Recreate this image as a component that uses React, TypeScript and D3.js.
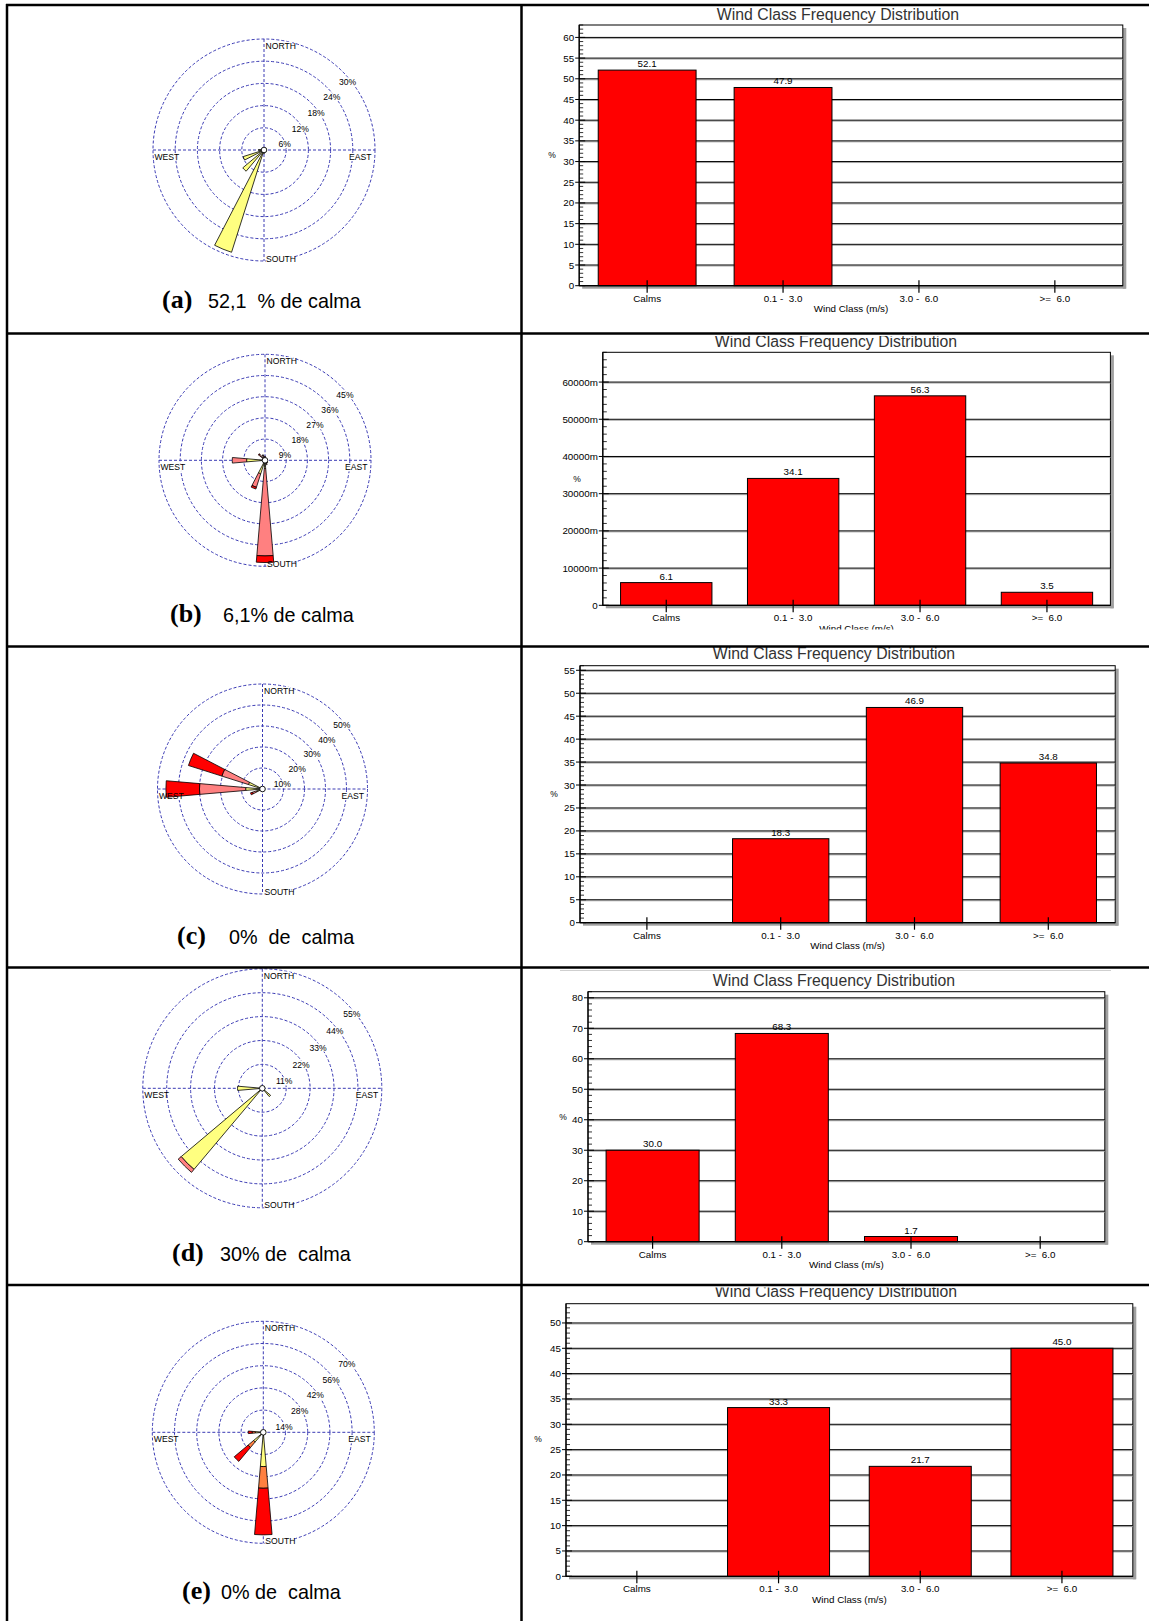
import React from "react";
import * as d3 from "d3";

// ---------------- data ----------------
const windClasses = ["Calms", "0.1 -  3.0", "3.0 -  6.0", ">=  6.0"];
const freqA = [52.1, 47.9, 0, 0];
const freqB = [6.1, 34.1, 56.3, 3.5];
const freqC = [0, 18.3, 46.9, 34.8];
const freqD = [30.0, 68.3, 1.7, 0];
const freqE = [0, 33.3, 21.7, 45.0];

const panelLetters = ["(a)", "(b)", "(c)", "(d)", "(e)"];
const panelCaptions = ["52,1  % de calma", "6,1% de calma", "0%  de  calma", "30% de  calma", "0% de  calma"];

const compassLabels = ["NORTH", "SOUTH", "WEST", "EAST"];
const chartTitle = "Wind Class Frequency Distribution";
const xAxisTitle = "Wind Class (m/s)";
const yAxisTitle = "%";

const ringsA = [6, 12, 18, 24, 30];
const ringsB = [9, 18, 27, 36, 45];
const ringsC = [10, 20, 30, 40, 50];
const ringsD = [11, 22, 33, 44, 55];
const ringsE = [14, 28, 42, 56, 70];

// petals: direction (deg) and % per speed class (0.1-3, 3-6, >=6)
const dirsA = [202.5, 225, 247.5, 270, 180];
const lowA = [29.0, 7.5, 5.9, 1.5, 1.0];

const dirsB = [180, 270, 202.5, 315, 337.5, 0, 157.5, 135];
const lowB = [3.5, 7.8, 6.0, 1.2, 1.0, 0.8, 1.5, 1.0];
const midB = [37.1, 6.1, 6.0, 2.2, 1.5, 1.0, 0.5, 0.5];
const highB = [2.8, 0, 0.8, 0.3, 0, 0, 0, 0];

const dirsC = [270, 292.5, 247.5];
const lowC = [8, 7, 3];
const midC = [22, 13.3, 2];
const highC = [16, 16.7, 1];

const dirsD = [225, 270, 135];
const lowD = [48.8, 11.4, 5.0];
const midD = [1.8, 0, 0];

const dirsE = [180, 225, 270];
const lowE = [21.6, 8.0, 5.0];
const midE = [13.7, 4.6, 2.0];
const highE = [29.4, 11.4, 2.5];

// ---------------- styles ----------------
const YEL = "#ffff80";
const SAL = "#ff8080";
const ORA = "#ff8040";
const RED = "#ff0000";
const GRID_BLUE = "#3a3ab4";
const SANS = "'Liberation Sans', Arial, sans-serif";
const SERIF = "'Liberation Serif', 'Times New Roman', serif";

const roses = [
  { cx: 264, cy: 150, R: 111, rings: ringsA, dirs: dirsA, segs: [lowA], colors: [YEL] },
  { cx: 265, cy: 460.3, R: 106, rings: ringsB, dirs: dirsB, segs: [lowB, midB, highB], colors: [YEL, SAL, RED] },
  { cx: 262.5, cy: 789, R: 105, rings: ringsC, dirs: dirsC, segs: [lowC, midC, highC], colors: [YEL, SAL, RED] },
  { cx: 262.3, cy: 1088.3, R: 119.5, rings: ringsD, dirs: dirsD, segs: [lowD, midD], colors: [YEL, SAL] },
  { cx: 263.3, cy: 1432.3, R: 111, rings: ringsE, dirs: dirsE, segs: [lowE, midE, highE], colors: [YEL, ORA, RED] },
];

const charts = [
  { values: freqA, l: 579.2, r: 1122.8, t: 25, b: 285.7, ymax: 63, major: 5, minor: 1, milli: false, titleX: 838, titleY: 19.5, pct: [552, 158], clip: null as null | [number, number], topLine: null as null | number },
  { values: freqB, l: 602.8, r: 1110.4, t: 352.3, b: 605.3, ymax: 68, major: 10, minor: 2, milli: true, titleX: 836, titleY: 347, pct: [577, 482], clip: [336, 629.5], topLine: null },
  { values: freqC, l: 580, r: 1115.2, t: 665.7, b: 922.7, ymax: 56, major: 5, minor: 1, milli: false, titleX: 834, titleY: 659, pct: [554, 797], clip: null, topLine: null },
  { values: freqD, l: 588, r: 1104.8, t: 991.7, b: 1241.7, ymax: 82, major: 10, minor: 2, milli: false, titleX: 834, titleY: 985.7, pct: [563, 1120], clip: null, topLine: 970.5 },
  { values: freqE, l: 566, r: 1132.8, t: 1303.7, b: 1576.3, ymax: 53.8, major: 5, minor: 1, milli: false, titleX: 836, titleY: 1297, pct: [538, 1442], clip: [1287.5, 1621], topLine: null },
];

const captions = [
  { lx: 162, tx: 208, y: 308 },
  { lx: 170, tx: 223, y: 622 },
  { lx: 177, tx: 229, y: 944 },
  { lx: 172, tx: 220, y: 1260.5 },
  { lx: 182, tx: 221, y: 1598.5 },
];

const rowLines = [5, 333.5, 646.5, 967.5, 1285];

// ---------------- components ----------------
function Rose({ cx, cy, R, rings, dirs, segs, colors }: any) {
  const max = rings[rings.length - 1];
  const r = d3.scaleLinear().domain([0, max]).range([0, R]);
  const half = (4.9 * Math.PI) / 180;
  const arc = d3.arc<any>();
  const petals: any[] = [];
  dirs.forEach((dir: number, i: number) => {
    let cum = 0;
    const a = (dir * Math.PI) / 180;
    segs.forEach((s: number[], k: number) => {
      const v = s[i];
      if (v > 0) {
        petals.push({
          d: arc({ innerRadius: r(cum), outerRadius: r(cum + v), startAngle: a - half, endAngle: a + half }),
          fill: colors[k],
          key: `${i}-${k}`,
        });
      }
      cum += v;
    });
  });
  const fs = 8.6;
  const top = cy - R;
  const labelPos = [
    { t: compassLabels[0], x: cx + 1.5, y: top + 9.8, anchor: "start" },
    { t: compassLabels[1], x: cx + 2, y: cy + R + 0.5, anchor: "start" },
    { t: compassLabels[2], x: cx - R + 1.5, y: cy + 10, anchor: "start" },
    { t: compassLabels[3], x: cx + R - 3.5, y: cy + 10, anchor: "end" },
  ];
  const k = Math.SQRT1_2;
  const ringLabels = rings.map((v: number) => ({
    t: `${v}%`,
    x: cx + r(v) * k + 5,
    y: cy - r(v) * k + 10 + 3,
  }));
  const w = (s: string) => s.length * fs * 0.62;
  return (
    <g>
      {rings.map((v: number) => (
        <circle key={v} cx={cx} cy={cy} r={r(v)} fill="none" stroke={GRID_BLUE} strokeWidth={1} strokeDasharray="3 2" />
      ))}
      <line x1={cx - R} x2={cx + R} y1={cy} y2={cy} stroke={GRID_BLUE} strokeDasharray="3 2" />
      <line x1={cx} x2={cx} y1={cy - R} y2={cy + R} stroke={GRID_BLUE} strokeDasharray="3 2" />
      {labelPos.map((p) => (
        <rect key={"bg" + p.t} x={p.anchor === "end" ? p.x - w(p.t) : p.x} y={p.y - 7} width={w(p.t)} height={8} fill="#fff" />
      ))}
      {ringLabels.map((p: any) => (
        <rect key={"bg" + p.t} x={p.x - w(p.t) / 2} y={p.y - 7} width={w(p.t)} height={8} fill="#fff" />
      ))}
      {petals.map((p) => (
        <path key={p.key} d={p.d} transform={`translate(${cx},${cy})`} fill={p.fill} stroke="#000" strokeWidth={0.8} strokeLinejoin="round" />
      ))}
      {labelPos.map((p) => (
        <text key={p.t} x={p.x} y={p.y} fontSize={fs} fontFamily={SANS} textAnchor={p.anchor} fill="#000">
          {p.t}
        </text>
      ))}
      {ringLabels.map((p: any) => (
        <text key={p.t} x={p.x} y={p.y} fontSize={fs} fontFamily={SANS} textAnchor="middle" fill="#000">
          {p.t}
        </text>
      ))}
      <circle cx={cx} cy={cy} r={2.8} fill="#fff" stroke="#000" strokeWidth={0.9} />
    </g>
  );
}

function BarChart({ values, l, r, t, b, ymax, major, minor, milli, titleX, titleY, pct, clip, topLine, id }: any) {
  const y = d3.scaleLinear().domain([0, ymax]).range([b, t]);
  const x = d3.scaleBand<string>().domain(windClasses).range([l, r]).paddingInner(0.28).paddingOuter(0.14);
  const majors = d3.range(0, ymax + 1e-9, major);
  const minors = d3.range(0, ymax + 1e-9, minor).filter((v) => Math.abs(v / major - Math.round(v / major)) > 1e-6);
  const fmt = (v: number) => (milli && v > 0 ? `${v * 1000}m` : `${v}`);
  const fs = 9.8;
  const content = (
    <g>
      <text x={titleX} y={titleY} fontSize={15.8} fontFamily={SANS} textAnchor="middle" fill="#333">
        {chartTitle}
      </text>
      {topLine != null && <line x1={560} x2={1111} y1={topLine} y2={topLine} stroke="#cfcfcf" strokeWidth={1} />}
      {/* shadow */}
      <rect x={r} y={t + 3} width={3.5} height={b - t} fill="#a0a0a0" />
      <rect x={l + 3} y={b} width={r - l} height={3} fill="#a0a0a0" />
      <rect x={l} y={t} width={r - l} height={b - t} fill="#fff" stroke="#000" strokeWidth={1} />
      {majors.filter((v) => v > 0).map((v) => (
        <g key={"g" + v}>
          <line x1={l} x2={r} y1={y(v) + 1} y2={y(v) + 1} stroke="#a8a8a8" strokeWidth={1} />
          <line x1={l} x2={r} y1={y(v)} y2={y(v)} stroke="#000" strokeWidth={1} />
        </g>
      ))}
      {windClasses.map((c, i) =>
        values[i] > 0 ? (
          <rect key={"b" + c} x={x(c)} y={y(values[i])} width={x.bandwidth()} height={b - y(values[i])} fill={RED} stroke="#000" strokeWidth={1} />
        ) : null
      )}
      {windClasses.map((c, i) =>
        values[i] > 0 ? (
          <text key={"v" + c} x={(x(c) as number) + x.bandwidth() / 2} y={y(values[i]) - 3} fontSize={fs} fontFamily={SANS} textAnchor="middle" fill="#000">
            {values[i].toFixed(1)}
          </text>
        ) : null
      )}
      {/* axes */}
      <line x1={l} x2={l} y1={t} y2={b} stroke="#000" strokeWidth={1.2} />
      <line x1={l} x2={r} y1={b} y2={b} stroke="#000" strokeWidth={1.2} />
      {majors.map((v) => (
        <g key={"t" + v}>
          <line x1={l - 4} x2={l + 6} y1={y(v)} y2={y(v)} stroke="#000" strokeWidth={1} />
          <text x={l - 5} y={y(v) + 3.5} fontSize={fs} fontFamily={SANS} textAnchor="end" fill="#000">
            {fmt(v)}
          </text>
        </g>
      ))}
      {minors.map((v) => (
        <line key={"m" + v} x1={l} x2={l + 4} y1={y(v)} y2={y(v)} stroke="#000" strokeWidth={0.8} />
      ))}
      {windClasses.map((c) => {
        const cxp = (x(c) as number) + x.bandwidth() / 2;
        return (
          <g key={"x" + c}>
            <line x1={cxp} x2={cxp} y1={b - 5.5} y2={b + 7} stroke="#000" strokeWidth={1.2} />
            <text x={cxp} y={b + 16} fontSize={fs} fontFamily={SANS} textAnchor="middle" fill="#000" xmlSpace="preserve" style={{ whiteSpace: "pre" }}>
              {c}
            </text>
          </g>
        );
      })}
      <text x={(l + r) / 2} y={b + 26.5} fontSize={fs} fontFamily={SANS} textAnchor="middle" fill="#000">
        {xAxisTitle}
      </text>
      <text x={pct[0]} y={pct[1]} fontSize={8.5} fontFamily={SANS} textAnchor="middle" fill="#000">
        {yAxisTitle}
      </text>
    </g>
  );
  if (!clip) return content;
  return (
    <g>
      <defs>
        <clipPath id={id}>
          <rect x={522} y={clip[0]} width={640} height={clip[1] - clip[0]} />
        </clipPath>
      </defs>
      <g clipPath={`url(#${id})`}>{content}</g>
    </g>
  );
}

export default function App() {
  const W = 1149;
  const H = 1621;
  return (
    <>
      <style>{`body{margin:0;background:#fff}`}</style>
      <svg width={W} height={H} viewBox={`0 0 ${W} ${H}`} style={{ display: "block" }}>
        <rect x={0} y={0} width={W} height={H} fill="#fff" />
        {roses.map((p, i) => (
          <Rose key={i} {...p} />
        ))}
        {charts.map((c, i) => (
          <BarChart key={i} id={`clip${i}`} {...c} />
        ))}
        {captions.map((c, i) => (
          <g key={"c" + i}>
            <text x={c.lx} y={c.y} fontSize={26} fontWeight="bold" fontFamily={SERIF} fill="#000">
              {panelLetters[i]}
            </text>
            <text x={c.tx} y={c.y} fontSize={19.8} fontFamily={SANS} fill="#000" xmlSpace="preserve" style={{ whiteSpace: "pre" }}>
              {panelCaptions[i]}
            </text>
          </g>
        ))}
        {/* table lines */}
        {rowLines.map((yv) => (
          <line key={"r" + yv} x1={6} x2={W} y1={yv} y2={yv} stroke="#000" strokeWidth={2.5} />
        ))}
        <line x1={7} x2={7} y1={4} y2={H} stroke="#000" strokeWidth={2.5} />
        <line x1={521.5} x2={521.5} y1={4} y2={H} stroke="#000" strokeWidth={2.5} />
      </svg>
    </>
  );
}
